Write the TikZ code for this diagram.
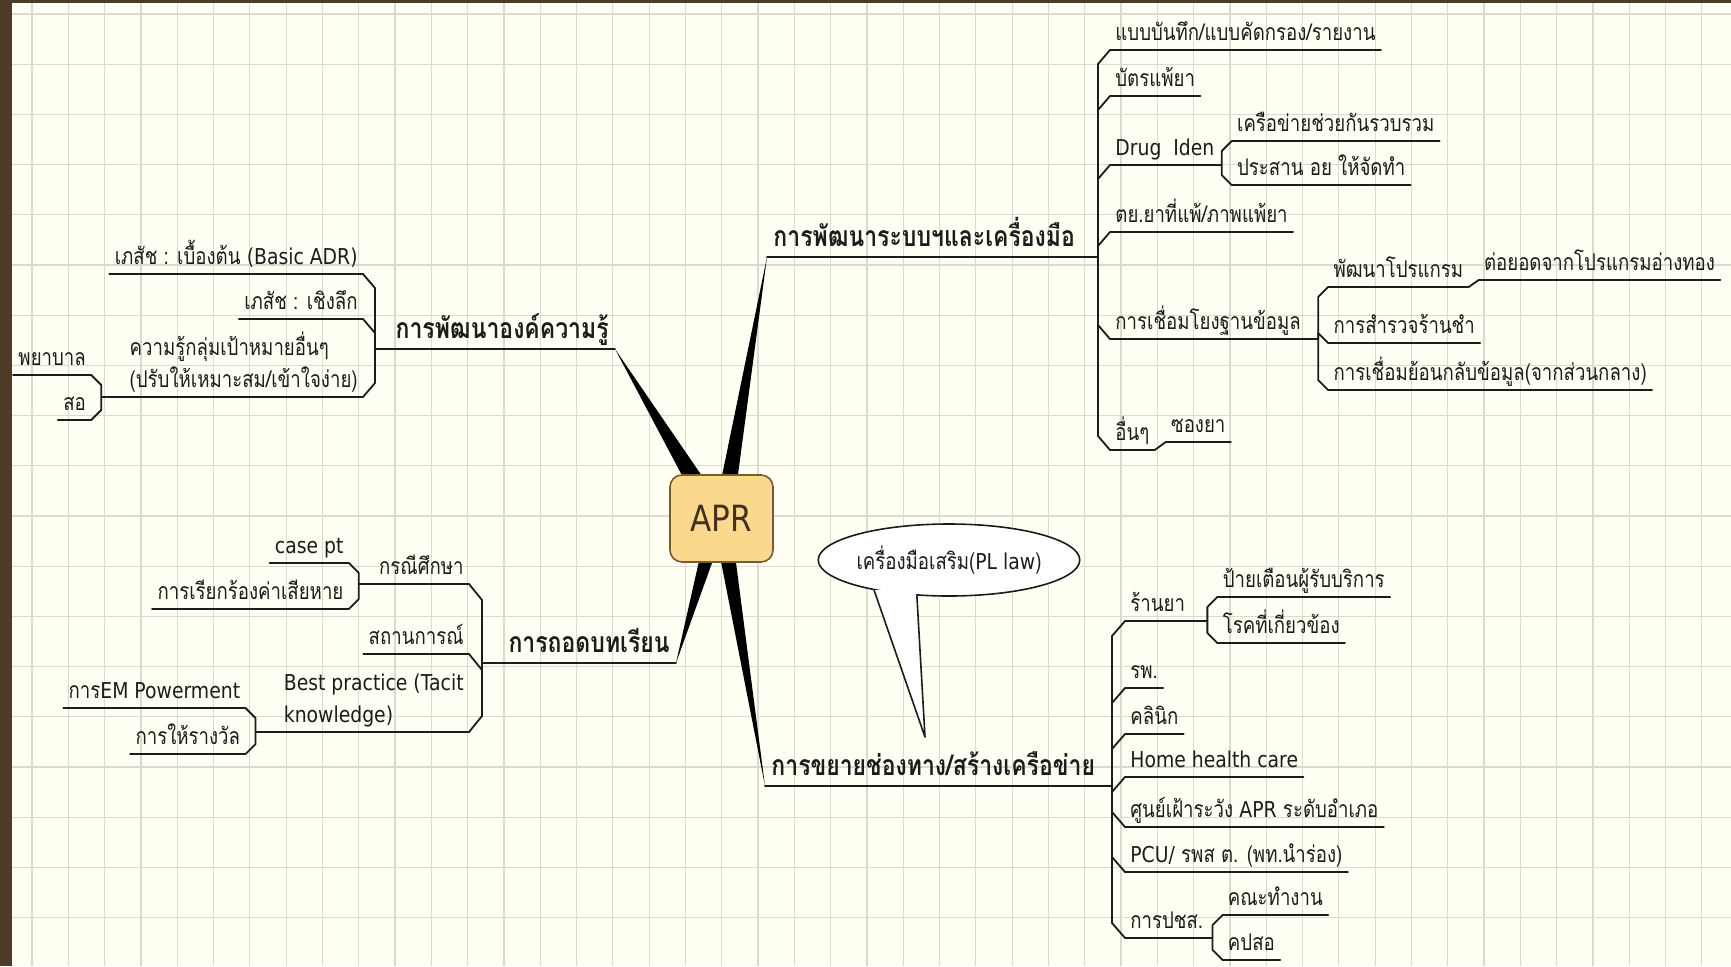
\documentclass[tikz,border=0pt]{standalone}
\usepackage{fontspec}
\setmainfont{Loma}[Script=Thai, FakeStretch=0.81]
\newfontfamily\latfont{DejaVu Sans}[FakeStretch=0.86, Scale=0.95]
\newcommand\lat[1]{{\latfont #1}}
\usetikzlibrary{calc,shapes.geometric,backgrounds}
\definecolor{paper}{HTML}{FFFFF3}
\definecolor{gridc}{HTML}{DADACE}
\definecolor{frame}{HTML}{4E3B27}
\definecolor{aprfill}{HTML}{FAD98F}
\definecolor{aprline}{HTML}{7A5A30}
\definecolor{ink}{HTML}{1C1C1C}
\begin{document}
\begin{tikzpicture}[x=0.5pt, y=-0.5pt, line join=round, line cap=round,
  leaf/.style={inner xsep=2.5pt, inner ysep=1.5pt, text depth=3pt, text=ink,
    font=\fontsize{11.5}{16}\selectfont},
  branch/.style={inner xsep=3pt, inner ysep=2pt, text depth=3pt, text=ink,
    font=\fontsize{14.2}{16}\selectfont\bfseries},
  link/.style={draw=ink, line width=0.9pt},
  wedge/.style={fill=black},
  gridline/.style={draw=gridc, line width=0.6pt}]
\useasboundingbox (0,0) rectangle (1731,966);
\begin{pgfonlayer}{background}
  \fill[paper] (0,0) rectangle (1731,966);
  \foreach \k in {0,...,46} \draw[gridline] ({32+36.3*\k},0) -- ({32+36.3*\k},966);
  \foreach \k in {0,...,19} \draw[gridline] (0,{14+50.2*\k}) -- (1731,{14+50.2*\k});
  \fill[frame] (0,0) rectangle (12,966);
  \fill[frame] (0,0) rectangle (1731,3);
\end{pgfonlayer}

% centre
\node[draw=aprline, line width=0.8pt, fill=aprfill, rounded corners=6pt,
  minimum width=51.5pt, minimum height=43.5pt, text=aprline!55!black,
  font=\fontsize{19}{21}\selectfont\latfont] (apr) at (721.5,518.5) {APR};

% main branches
\node[branch, anchor=south west] (r1) at (767,257) {การพัฒนาระบบฯและเครื่องมือ};
\node[branch, anchor=south west] (r2) at (765,786) {การขยายช่องทาง/สร้างเครือข่าย};
\node[branch, anchor=south east] (l1) at (615,349) {การพัฒนาองค์ความรู้};
\node[branch, anchor=south east] (l2) at (676,663) {การถอดบทเรียน};

% right, upper
\node[leaf, anchor=south west] (r1a) at (1110,50) {แบบบันทึก/แบบคัดกรอง/รายงาน};
\node[leaf, anchor=south west] (r1b) at (1110,96) {บัตรแพ้ยา};
\node[leaf, anchor=south west] (r1c) at (1110,165) {\lat{Drug\ \ Iden}};
\node[leaf, anchor=south west] (r1d) at (1110,232) {ตย.ยาที่แพ้/ภาพแพ้ยา};
\node[leaf, anchor=south west] (r1e) at (1110,339) {การเชื่อมโยงฐานข้อมูล};
\node[leaf, anchor=south west] (r1f) at (1110,450) {อื่นๆ};
\node[leaf, anchor=south west] (r1c1) at ($(r1c.south east)+(12,-24)$) {เครือข่ายช่วยกันรวบรวม};
\node[leaf, anchor=south west] (r1c2) at ($(r1c.south east)+(12,20)$) {ประสาน อย ให้จัดทำ};
\node[leaf, anchor=south west] (r1e1) at ($(r1e.south east)+(22,-52)$) {พัฒนาโปรแกรม};
\node[leaf, anchor=south west] (r1e2) at ($(r1e.south east)+(22,4)$) {การสำรวจร้านชำ};
\node[leaf, anchor=south west] (r1e3) at ($(r1e.south east)+(22,51)$) {การเชื่อมย้อนกลับข้อมูล(จากส่วนกลาง)};
\node[leaf, anchor=south west] (r1e1a) at ($(r1e1.south east)+(10,-7)$) {ต่อยอดจากโปรแกรมอ่างทอง};
\node[leaf, anchor=south west] (r1f1) at ($(r1f.south east)+(11,-8)$) {ซองยา};

% right, lower
\node[leaf, anchor=south west] (r2a) at (1125,621) {ร้านยา};
\node[leaf, anchor=south west] (r2b) at (1125,688) {รพ.};
\node[leaf, anchor=south west] (r2c) at (1125,734) {คลินิก};
\node[leaf, anchor=south west] (r2d) at (1125,777) {\lat{Home health care}};
\node[leaf, anchor=south west] (r2e) at (1125,827) {ศูนย์เฝ้าระวัง \lat{APR} ระดับอำเภอ};
\node[leaf, anchor=south west] (r2f) at (1125,872) {\lat{PCU/} รพส ต. (พท.นำร่อง)};
\node[leaf, anchor=south west] (r2g) at (1125,938) {การปชส.};
\node[leaf, anchor=south west] (r2a1) at ($(r2a.south east)+(27,-24)$) {ป้ายเตือนผู้รับบริการ};
\node[leaf, anchor=south west] (r2a2) at ($(r2a.south east)+(27,22)$) {โรคที่เกี่ยวข้อง};
\node[leaf, anchor=south west] (r2g1) at ($(r2g.south east)+(14,-23)$) {คณะทำงาน};
\node[leaf, anchor=south west] (r2g2) at ($(r2g.south east)+(14,22)$) {คปสอ};

% left, upper
\node[leaf, anchor=south east] (l1a) at (363,274) {เภสัช : เบื้องต้น \lat{(Basic ADR)}};
\node[leaf, anchor=south east] (l1b) at (363,319) {เภสัช : เชิงลึก};
\node[leaf, anchor=south east, align=left] (l1c) at (363,397) {ความรู้กลุ่มเป้าหมายอื่นๆ\\(ปรับให้เหมาะสม/เข้าใจง่าย)};
\node[leaf, anchor=south east] (l1c1) at ($(l1c.south west)+(-33,-22)$) {พยาบาล};
\node[leaf, anchor=south east] (l1c2) at ($(l1c.south west)+(-33,23)$) {สอ};

% left, lower
\node[leaf, anchor=south east] (l2a) at (469,584) {กรณีศึกษา};
\node[leaf, anchor=south east] (l2b) at (469,654) {สถานการณ์};
\node[leaf, anchor=south east, align=left] (l2c) at (469,732) {\lat{Best practice (Tacit}\\\lat{knowledge)}};
\node[leaf, anchor=south east] (l2a1) at ($(l2a.south west)+(-25,-21)$) {\lat{case pt}};
\node[leaf, anchor=south east] (l2a2) at ($(l2a.south west)+(-25,25)$) {การเรียกร้องค่าเสียหาย};
\node[leaf, anchor=south east] (l2c1) at ($(l2c.south west)+(-33,-24)$) {การ\lat{EM Powerment}};
\node[leaf, anchor=south east] (l2c2) at ($(l2c.south west)+(-33,22)$) {การให้รางวัล};

% speech bubble
\node[ellipse, draw=ink, line width=0.8pt, fill=white, inner sep=0pt,
  minimum width=112pt, minimum height=36pt, text=ink,
  font=\fontsize{11.5}{14}\selectfont] (tool) at (949,560) {เครื่องมือเสริม(\lat{PL law})};
\coordinate (tip) at (925,737);
\fill[white] (tool.202) -- (tip) -- (tool.228) -- ($(tool.center)!0.8!(tool.215)$) -- cycle;
\draw[draw=ink, line width=0.8pt] (tool.202) -- (tip) -- (tool.228);

% underlines
\foreach \n in {r1,r2,l1,l2,r1a,r1b,r1c,r1d,r1e,r1f,r1c1,r1c2,r1e1,r1e2,r1e3,r1e1a,r1f1,
  r2a,r2b,r2c,r2d,r2e,r2f,r2g,r2a1,r2a2,r2g1,r2g2,l1a,l1b,l1c,l1c1,l1c2,
  l2a,l2b,l2c,l2a1,l2a2,l2c1,l2c2}
  \draw[link] (\n.south west) -- (\n.south east);

% brackets
\foreach \c/\s in {r1a/1,r1b/1,r1c/1,r1d/1,r1e/-1,r1f/-1}
  \draw[link] (r1.south east) -| ($(\c.south west)+(-12,14*\s)$) -- (\c.south west);
\foreach \c/\s in {r2a/1,r2b/1,r2c/1,r2d/1,r2e/-1,r2f/-1,r2g/-1}
  \draw[link] (r2.south east) -| ($(\c.south west)+(-13,15*\s)$) -- (\c.south west);
\foreach \c/\s in {l1a/1,l1b/1,l1c/-1}
  \draw[link] (l1.south west) -| ($(\c.south east)+(12,14*\s)$) -- (\c.south east);
\foreach \c/\s in {l2a/1,l2b/1,l2c/-1}
  \draw[link] (l2.south west) -| ($(\c.south east)+(13,16*\s)$) -- (\c.south east);
\foreach \p/\c/\s in {r1c/r1c1/1,r1c/r1c2/-1,r1e/r1e1/1,r1e/r1e2/-1,r1e/r1e3/-1,
  r2a/r2a1/1,r2a/r2a2/-1,r2g/r2g1/1,r2g/r2g2/-1}
  \draw[link] (\p.south east) -| ($(\c.south west)+(-10,10*\s)$) -- (\c.south west);
\foreach \p/\c/\s in {l1c/l1c1/1,l1c/l1c2/-1,l2a/l2a1/1,l2a/l2a2/-1,l2c/l2c1/1,l2c/l2c2/-1}
  \draw[link] (\p.south west) -| ($(\c.south east)+(10,10*\s)$) -- (\c.south east);
\draw[link] (r1e1.south east) -- (r1e1a.south west);
\draw[link] (r1f.south east) -- (r1f1.south west);

% tapered arms under the centre box
\begin{pgfonlayer}{background}
  \fill[wedge] ($(apr.north)+(-38,4)$) -- (l1.south east) -- ($(apr.north)+(-18,4)$) -- cycle;
  \fill[wedge] ($(apr.north)+(0,4)$) -- (r1.south west) -- ($(apr.north)+(16,4)$) -- cycle;
  \fill[wedge] ($(apr.south)+(-22,-4)$) -- (l2.south east) -- ($(apr.south)+(-8,-4)$) -- cycle;
  \fill[wedge] ($(apr.south)+(-1,-4)$) -- (r2.south west) -- ($(apr.south)+(14,-4)$) -- cycle;
\end{pgfonlayer}
\end{tikzpicture}
\end{document}
